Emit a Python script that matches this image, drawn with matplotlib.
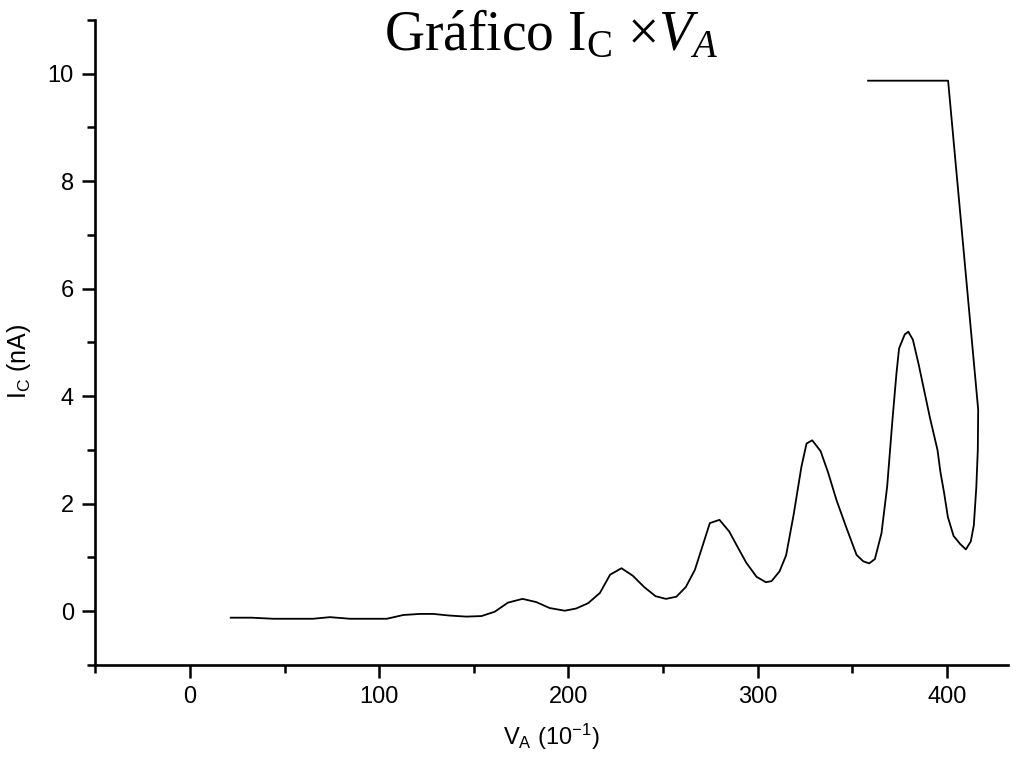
import matplotlib
matplotlib.use("Agg")
import matplotlib.pyplot as plt
import numpy as np

plt.rcParams['font.family'] = ['Liberation Sans', 'DejaVu Sans']
plt.rcParams['mathtext.fontset'] = 'custom'
plt.rcParams['mathtext.rm'] = 'Liberation Serif'
plt.rcParams['mathtext.it'] = 'Liberation Serif:italic'

# Dados
va = [21.5, 32.6, 44, 65, 74, 84.5, 104, 112.7, 121.5, 128.5, 137, 146, 154, 161,
      168, 175.7, 183, 190, 198, 204, 210.4, 216.6, 222, 228, 234, 240, 246, 251.5,
      257, 262, 266.8, 274.7, 279.8, 285, 289.6, 294, 299.4, 304.3, 307.3, 311.5,
      315, 319, 323.1, 325.8, 328.8, 333.2, 337.2, 341.6, 346.9, 352.2, 355.7,
      358.9, 361.9, 365.4, 368.4, 371.2, 373.3, 374.7, 377.7, 379.6, 382, 385,
      388, 391, 395, 396.5, 398.5, 400.5, 403.5, 407, 410, 412.6, 414.2, 415.5,
      416.3, 416.5, 400.6, 358.3]
ic = [-0.12, -0.12, -0.14, -0.14, -0.11, -0.14, -0.14, -0.07, -0.05, -0.05, -0.08,
      -0.1, -0.09, -0.01, 0.16, 0.23, 0.17, 0.06, 0.01, 0.05, 0.15, 0.34, 0.68,
      0.80, 0.66, 0.45, 0.28, 0.23, 0.27, 0.45, 0.77, 1.64, 1.70, 1.48, 1.18, 0.90,
      0.64, 0.54, 0.56, 0.74, 1.04, 1.8, 2.69, 3.12, 3.18, 2.98, 2.58, 2.07, 1.55,
      1.05, 0.93, 0.89, 0.97, 1.45, 2.32, 3.56, 4.42, 4.89, 5.15, 5.2, 5.05, 4.6,
      4.1, 3.6, 3.0, 2.6, 2.2, 1.75, 1.4, 1.25, 1.15, 1.3, 1.6, 2.3, 3.0, 3.75,
      9.87, 9.87]
assert len(va) == len(ic)

fig = plt.figure(figsize=(10.18, 7.67), dpi=100)
ax = fig.add_axes([0.0937, 0.133, 0.896, 0.841])

ax.plot(va, ic, color='black', linewidth=1.3)

ax.set_xlim(-50, 432)
ax.set_ylim(-1, 11)
ax.set_xticks([0, 100, 200, 300, 400])
ax.set_xticks(np.arange(-50, 432, 100), minor=True)
ax.set_yticks([0, 2, 4, 6, 8, 10])
ax.set_yticks(np.arange(-1, 12, 2), minor=True)

for s in ['top', 'right']:
    ax.spines[s].set_visible(False)
for s in ['left', 'bottom']:
    ax.spines[s].set_linewidth(1.9)

ax.tick_params(which='major', direction='out', length=9.4, width=1.8,
               labelsize=17, pad=6)
ax.tick_params(which='minor', direction='out', length=5.8, width=1.8)

ax.set_xlabel(r'V$\mathregular{_A}$ (10$\mathregular{^{-1}}$)', fontsize=17, labelpad=10)
ax.set_ylabel(r'I$\mathregular{_C}$ (nA)', fontsize=18)
ax.yaxis.set_label_coords(-0.068, 0.47)

fig.text(0.541, 0.935, r'Gráfico I$_\mathrm{C}$ $\times V_A$', fontsize=40,
         family='Liberation Serif', ha='center', va='baseline')

fig.savefig('out.png', dpi=100)
